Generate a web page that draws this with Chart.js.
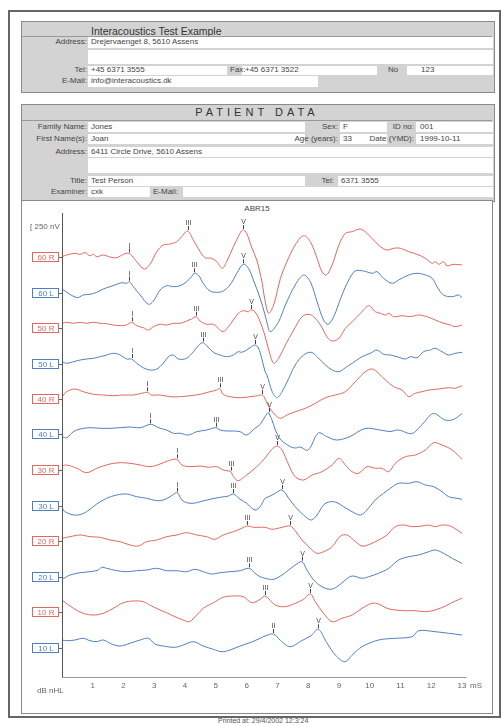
<!DOCTYPE html>
<html>
<head>
<meta charset="utf-8">
<script src="https://cdn.jsdelivr.net/npm/chart.js@4.4.1/dist/chart.umd.min.js"></script>
<style>
  body { margin: 0; width: 502px; height: 726px; position: relative; background: #fff; overflow: hidden;
         font-family: "Liberation Sans", Arial, sans-serif; color: #3a3a3a; }
  .a { position: absolute; }
  .frame { left: 8px; top: 10px; width: 489px; height: 704px; border: 2px solid #666; }
  .box { background: #d3d3d3; border: 1px solid #8a8a8a; }
  .w { background: #fff; }
  .ln { background: #999; height: 1px; }
  .t { font-size: 8px; line-height: 10px; white-space: nowrap; color: #444; }
  .r { text-align: right; width: 120px; }
</style>
</head>
<body>
<div class="a frame"></div>

<!-- company box -->
<div class="a box" style="left:21px;top:21px;width:472px;height:70px"></div>
<div class="a t" style="left:91px;top:25px;font-size:10.5px;line-height:12px;color:#333">Interacoustics Test Example</div>
<div class="a ln" style="left:22px;top:36px;width:470px"></div>
<div class="a w" style="left:88px;top:37px;width:405px;height:11px"></div>
<div class="a w" style="left:88px;top:50px;width:405px;height:14px"></div>
<div class="a w" style="left:88px;top:66px;width:139px;height:9px"></div>
<div class="a w" style="left:242px;top:66px;width:135px;height:9px"></div>
<div class="a w" style="left:407px;top:66px;width:86px;height:9px"></div>
<div class="a w" style="left:88px;top:76px;width:230px;height:11px"></div>
<div class="a t r" style="left:-33px;top:37px">Address:</div>
<div class="a t" style="left:91px;top:37px">Drejervaenget 8, 5610 Assens</div>
<div class="a t r" style="left:-33px;top:65px">Tel:</div>
<div class="a t" style="left:91px;top:65px">+45 6371 3555</div>
<div class="a t" style="left:230px;top:65px">Fax:</div>
<div class="a t" style="left:245px;top:65px">+45 6371 3522</div>
<div class="a t" style="left:388px;top:65px">No</div>
<div class="a t" style="left:421px;top:65px">123</div>
<div class="a t r" style="left:-33px;top:76px">E-Mail:</div>
<div class="a t" style="left:91px;top:76px">info@interacoustics.dk</div>

<!-- patient box -->
<div class="a box" style="left:21px;top:104px;width:472px;height:96px"></div>
<div class="a t" style="left:21px;top:106px;width:472px;text-align:center;font-size:11px;line-height:12px;letter-spacing:4px;color:#333">PATIENT DATA</div>
<div class="a ln" style="left:22px;top:120px;width:470px"></div>
<div class="a w" style="left:88px;top:122px;width:217px;height:10px"></div>
<div class="a w" style="left:340px;top:122px;width:47px;height:10px"></div>
<div class="a w" style="left:416px;top:122px;width:77px;height:10px"></div>
<div class="a w" style="left:88px;top:134px;width:217px;height:10px"></div>
<div class="a w" style="left:340px;top:134px;width:47px;height:10px"></div>
<div class="a w" style="left:416px;top:134px;width:77px;height:10px"></div>
<div class="a w" style="left:88px;top:147px;width:405px;height:10px"></div>
<div class="a w" style="left:88px;top:158px;width:405px;height:15px"></div>
<div class="a w" style="left:88px;top:176px;width:217px;height:10px"></div>
<div class="a w" style="left:338px;top:176px;width:155px;height:10px"></div>
<div class="a w" style="left:88px;top:187px;width:62px;height:10px"></div>
<div class="a w" style="left:183px;top:187px;width:310px;height:10px"></div>
<div class="a t r" style="left:-33px;top:122px">Family Name:</div>
<div class="a t" style="left:91px;top:122px">Jones</div>
<div class="a t r" style="left:218px;top:122px">Sex:</div>
<div class="a t" style="left:343px;top:122px">F</div>
<div class="a t r" style="left:294px;top:122px">ID no:</div>
<div class="a t" style="left:420px;top:122px">001</div>
<div class="a t r" style="left:-33px;top:134px">First Name(s):</div>
<div class="a t" style="left:91px;top:134px">Joan</div>
<div class="a t r" style="left:218px;top:134px">Age (years):</div>
<div class="a t" style="left:343px;top:134px">33</div>
<div class="a t r" style="left:294px;top:134px">Date (YMD):</div>
<div class="a t" style="left:420px;top:134px">1999-10-11</div>
<div class="a t r" style="left:-33px;top:147px">Address:</div>
<div class="a t" style="left:91px;top:147px">6411 Circle Drive, 5610 Assens</div>
<div class="a t r" style="left:-33px;top:176px">Title:</div>
<div class="a t" style="left:91px;top:176px">Test Person</div>
<div class="a t r" style="left:214px;top:176px">Tel:</div>
<div class="a t" style="left:341px;top:176px">6371 3555</div>
<div class="a t r" style="left:-33px;top:187px">Examiner:</div>
<div class="a t" style="left:91px;top:187px">cxk</div>
<div class="a t" style="left:153px;top:187px">E-Mail:</div>

<!-- chart box -->
<div class="a" style="left:21px;top:200px;width:470px;height:512px;border:1px solid #8a8a8a;background:#fff"></div>
<div class="a t" style="left:21px;top:204px;width:472px;text-align:center">ABR15</div>
<canvas id="abrChart" class="a" style="left:0;top:200px" width="502" height="500"></canvas>
<div class="a t" style="left:218px;top:717px;font-size:7px;line-height:8px;color:#555">Printed at: 29/4/2002 12:3:24</div>

<script>
// ABR waveforms
// each trace: [latency ms, amplitude] ; amplitude relative to its own baseline
const channels = ['60 R', '60 L', '50 R', '50 L', '40 R', '40 L', '30 R', '30 L', '20 R', '20 L', '10 R', '10 L'];
const xTicks = [1, 2, 3, 4, 5, 6, 7, 8, 9, 10, 11, 12, 13];

const trace60R = [[0,0.3],[0.15,2],[0.42,3.7],[0.58,2.7],[0.75,4.3],[0.91,1.3],[1.02,2.7],[1.13,0.3],[1.34,2],[1.56,0],[1.78,-0.7],[2.0,2.7],[2.19,3.5],[2.43,-4.7],[2.67,-12],[2.86,-7.3],[3.08,5.3],[3.29,12],[3.51,13],[3.73,15.3],[3.89,20.3],[4.08,26],[4.27,17],[4.49,5.3],[4.65,-0.7],[4.86,-1.3],[5.03,-4.7],[5.21,-11.3],[5.35,-4.7],[5.57,10.3],[5.73,20.3],[5.87,27],[6.0,23.7],[6.16,10],[6.33,-3],[6.5,-25],[6.55,-35],[6.64,-50],[6.72,-56.3],[6.88,-48],[7.1,-21.3],[7.31,-4.7],[7.58,12],[7.85,21.3],[8.07,15.3],[8.29,-1.3],[8.45,-14.7],[8.59,-18],[8.78,-8],[9.0,12],[9.21,23.7],[9.43,25.3],[9.7,28],[9.91,23.7],[10.18,15.3],[10.35,10.3],[10.56,7],[10.78,8.7],[11.0,8.7],[11.27,5.3],[11.54,2.7],[11.81,-1.3],[12.03,-6.3],[12.13,-4.7],[12.25,-7.3],[12.4,-4.7],[12.51,-8.7],[12.73,-7.3],[13.0,-8]];
const trace60L = [[0,3.5],[0.48,-5.2],[0.69,-2.5],[0.91,-1.8],[1.13,0.2],[1.34,3.5],[1.56,5.8],[1.78,8.2],[1.94,9.8],[2.1,9.2],[2.19,10.8],[2.32,5.8],[2.54,-2.5],[2.81,-11.8],[2.97,-8.5],[3.19,2.5],[3.4,6.8],[3.62,5.8],[3.84,6.8],[4.05,10.8],[4.21,15.8],[4.3,19.2],[4.43,17.5],[4.59,9.2],[4.81,1.5],[5.03,0.2],[5.24,1.5],[5.46,7.5],[5.68,19.2],[5.89,28.2],[6.06,24.2],[6.22,12.5],[6.44,-5.8],[6.6,-22.5],[6.66,-30],[6.77,-39.2],[7.04,-29.2],[7.26,-12.5],[7.58,7.5],[7.85,17.5],[8.07,10.8],[8.29,-9.2],[8.5,-27.5],[8.65,-31.8],[8.83,-24.2],[9.1,-2.5],[9.32,12.5],[9.53,21.5],[9.8,21.5],[10.08,19.2],[10.24,20.8],[10.45,14.2],[10.73,9.2],[10.94,12.5],[11.27,17.5],[11.54,19.2],[11.81,17.5],[12.03,14.2],[12.19,5.8],[12.4,-2.5],[12.68,-4.2],[12.89,-2.5],[13.0,-5.2]];
const trace50R = [[0,4.7],[0.15,5.7],[0.37,4.7],[0.59,5.7],[0.8,4.7],[1.02,5.7],[1.24,4.7],[1.45,4.3],[1.67,3],[1.89,2.3],[2.1,3],[2.26,5.7],[2.43,2.3],[2.64,0.3],[2.81,-2],[2.97,1.3],[3.19,3.7],[3.4,3],[3.62,4.7],[3.84,4.7],[4.05,7],[4.21,9],[4.36,11.3],[4.49,7],[4.7,3.7],[4.92,3.7],[5.08,-0.3],[5.24,-3.7],[5.41,1.3],[5.57,8],[5.73,14.7],[5.89,17.3],[6.06,16.3],[6.13,18],[6.27,16.3],[6.44,6.3],[6.58,-6],[6.72,-22],[6.88,-35.3],[7.04,-30.3],[7.26,-17],[7.53,-2],[7.8,11.3],[8.02,13.7],[8.18,11.3],[8.4,3],[8.61,-8.7],[8.78,-13],[9.0,-10.3],[9.21,-0.3],[9.43,6.3],[9.7,14.7],[9.97,22.3],[10.18,16.3],[10.35,14.7],[10.51,13],[10.62,14.7],[10.78,11.3],[11.05,12.3],[11.32,11.3],[11.59,13],[11.86,11.3],[12.13,8],[12.4,4.7],[12.62,3],[12.78,1.3],[13.0,3]];
const trace50L = [[0,1.8],[0.15,0.2],[0.37,1.8],[0.59,3.5],[0.8,4.5],[1.02,5.2],[1.24,6.8],[1.45,8.5],[1.67,10.2],[1.89,8.5],[2.1,4.5],[2.26,4.5],[2.43,0.2],[2.64,-4.2],[2.86,-6.5],[3.08,-5.5],[3.29,0.2],[3.46,6.8],[3.62,8.5],[3.78,4.5],[4.05,5.2],[4.27,11.8],[4.43,17.8],[4.57,20.8],[4.7,17.8],[4.92,11.2],[5.14,8.5],[5.35,6.8],[5.57,8.5],[5.73,11.8],[5.84,11.2],[6.0,13.5],[6.16,16.8],[6.27,18.5],[6.38,15.8],[6.49,5.2],[6.6,-8.2],[6.66,-11.5],[6.83,-28],[6.99,-34.2],[7.15,-28.2],[7.37,-14.8],[7.58,-1.5],[7.85,8.5],[8.1,11.2],[8.29,6.8],[8.56,-1.5],[8.78,-6.5],[9.0,-8.2],[9.21,-4.2],[9.43,0.2],[9.75,6.8],[10.02,10.2],[10.24,13.5],[10.45,9.2],[10.67,8.5],[10.89,6.8],[11.16,4.5],[11.32,6.8],[11.54,5.8],[11.75,11.8],[11.97,13.5],[12.13,15.2],[12.35,11.8],[12.57,8.5],[12.78,10.2],[13.0,11.2]];
const trace40R = [[0,2.3],[0.15,7.3],[0.42,10],[0.69,7.3],[1.02,4.7],[1.34,4],[1.67,3.3],[1.99,4],[2.32,4],[2.59,5.7],[2.77,6.7],[2.91,4],[3.19,4],[3.51,2.3],[3.84,2.3],[4.16,3.3],[4.49,4.7],[4.81,7.3],[5.03,9],[5.12,10.7],[5.24,4.7],[5.46,2.3],[5.79,1.3],[6.11,2.3],[6.3,3],[6.49,4],[6.57,2],[6.72,-7.7],[6.93,-16],[7.1,-19.3],[7.31,-16],[7.58,-12.7],[7.91,-9.3],[8.23,-4.3],[8.56,1.3],[8.88,4],[9.21,7.3],[9.53,17.3],[9.86,27.3],[10.08,30],[10.29,25.7],[10.51,19],[10.78,12.3],[11.05,9],[11.27,2.3],[11.48,5.7],[11.7,7.3],[11.92,9],[12.24,10],[12.57,11.3],[12.78,10.7],[13.0,13.3]];
const trace40L = [[0,-2.2],[0.15,-3.2],[0.37,2.8],[0.59,5.5],[0.91,6.8],[1.24,6.2],[1.56,6.2],[1.89,6.8],[2.21,7.5],[2.54,6.8],[2.86,10.2],[2.97,9.5],[3.19,6.2],[3.4,4.5],[3.62,1.2],[3.84,1.2],[4.11,-0.5],[4.38,2.8],[4.7,4.5],[5.0,6.8],[5.14,4.5],[5.35,3.5],[5.57,3.5],[5.79,2.8],[6.0,-0.5],[6.27,6.2],[6.44,10],[6.6,18],[6.72,21.5],[7.05,-3],[7.41,-12],[7.6,-13.5],[7.73,-12.5],[8.0,-15.5],[8.33,1.5],[8.6,-2],[8.93,-5.5],[9.36,-2],[9.85,6],[10.34,4.5],[10.66,3],[10.93,4.5],[11.37,1],[11.7,10],[12.07,21],[12.45,14.5],[12.72,15],[13.0,21]];
const trace30R = [[0,4],[0.15,5],[0.48,1.7],[0.8,-2.7],[1.13,1.7],[1.56,6],[1.89,7.3],[2.21,6.7],[2.54,5],[2.86,3.3],[3.19,6],[3.46,9.3],[3.73,10.7],[3.9,5],[4.16,3.3],[4.49,4],[4.76,2.7],[5.03,3.3],[5.24,0],[5.48,-1.7],[5.57,-6.7],[5.73,-10.7],[6.0,-5],[6.33,3.3],[6.6,12],[6.8,20],[6.99,24],[7.15,20],[7.37,5],[7.58,-6.7],[7.85,-10],[8.13,-5],[8.45,-1.7],[8.78,5],[9.0,11.7],[9.21,5],[9.43,-1.7],[9.64,-3.3],[9.91,3.3],[10.18,1.7],[10.4,1.7],[10.62,-1.7],[10.83,6.7],[11.16,13.3],[11.48,15],[11.81,20],[12.08,27.3],[12.35,25],[12.68,20],[13.0,10.7]];
const trace30L = [[0,2.2],[0.04,-4.5],[0.26,-8.5],[0.53,-9.5],[0.8,-6.2],[1.13,1.5],[1.45,7.2],[1.78,10.5],[2.1,11.5],[2.43,8.8],[2.75,7.2],[3.08,4.8],[3.29,5.5],[3.51,8.8],[3.67,12.2],[3.75,12.8],[3.9,5.5],[4.05,2.8],[4.27,2.2],[4.49,3.8],[4.81,6.2],[5.14,8.2],[5.41,9.5],[5.57,11.5],[5.79,6.2],[6.0,2.2],[6.27,-4.5],[6.44,-1.2],[6.6,7.2],[6.72,8.8],[6.93,12.2],[7.15,15.5],[7.37,7.2],[7.58,-1.2],[7.85,-9.5],[8.1,-14.5],[8.29,-9.5],[8.5,0.5],[8.72,3.8],[8.94,2.8],[9.15,-1.2],[9.43,-6.2],[9.7,-9.5],[9.91,-4.5],[10.18,5.5],[10.45,12.2],[10.67,17.2],[10.94,22.2],[11.27,22.2],[11.54,23.8],[11.81,20.5],[12.08,18.8],[12.35,13.8],[12.57,8.8],[12.84,7.2],[13.0,6.2]];
const trace20R = [[0,2.7],[0.26,4.3],[0.59,6],[0.91,4.3],[1.24,3.7],[1.56,1],[1.89,-0.7],[2.21,-4],[2.48,-5],[2.75,-0.7],[3.08,1],[3.4,4.3],[3.73,6],[4.05,8.3],[4.38,6],[4.7,4.3],[4.97,1.7],[5.24,6],[5.57,9.3],[5.84,12.7],[6.02,15],[6.22,13.7],[6.44,13.7],[6.6,13.7],[6.83,11.7],[7.15,13.7],[7.42,15],[7.58,10.3],[7.8,1],[8.07,-7.3],[8.29,-12.3],[8.5,-10.7],[8.78,-5.7],[9.05,5],[9.26,6],[9.48,1],[9.75,-5],[10.02,-3],[10.29,1],[10.56,6],[10.83,14.3],[11.1,16],[11.38,14.3],[11.7,15],[11.92,16],[12.13,14.3],[12.35,16],[12.62,15],[12.84,11],[13.0,7.7]];
const trace20L = [[0,0.5],[0.04,-1.8],[0.26,1.5],[0.59,3.8],[0.91,4.8],[1.18,6.5],[1.29,9.2],[1.45,8.2],[1.78,5.8],[2.1,4.8],[2.43,5.8],[2.75,6.5],[3.08,8.2],[3.4,5.8],[3.73,5.8],[4.05,4.8],[4.32,7.2],[4.59,4.8],[4.86,2.5],[5.14,3.8],[5.46,4.8],[5.79,5.8],[6.09,8.2],[6.27,3.2],[6.44,-0.2],[6.6,-1.8],[6.88,-2.8],[7.15,1.5],[7.37,6.5],[7.58,11.5],[7.8,14.8],[7.96,6.5],[8.18,-3.5],[8.45,-10.2],[8.72,-12.8],[8.94,-10.2],[9.21,-3.5],[9.43,0.5],[9.75,-1.8],[9.97,-0.2],[10.29,3.2],[10.62,8.2],[10.94,16.5],[11.27,19.8],[11.59,21.5],[11.92,24.8],[12.13,26.5],[12.4,23.2],[12.68,18.2],[13.0,13.2]];
const trace10R = [[0,12],[0.37,3.7],[0.69,-1.3],[1.02,-3],[1.34,-1.3],[1.67,3.7],[1.99,9.3],[2.32,11],[2.64,10.3],[2.91,6],[3.19,2],[3.4,-0.7],[3.67,-4.7],[3.94,-8],[4.14,-9.7],[4.38,-3],[4.59,3.7],[4.92,9.3],[5.24,14.7],[5.57,16],[5.89,15.3],[6.17,9.3],[6.44,12.7],[6.6,16],[6.93,7],[7.26,5.3],[7.58,8.7],[7.85,12.7],[8.07,18],[8.23,10.3],[8.5,-1.3],[8.78,-9.7],[9.1,-6.3],[9.43,-3],[9.75,3.7],[10.08,8.7],[10.29,8],[10.56,3.7],[10.83,2],[11.16,1.3],[11.48,1.3],[11.81,0.3],[12.13,2],[12.46,6],[12.78,11],[13.0,13.7]];
const trace10L = [[0,7.5],[0.15,6.8],[0.42,7.5],[0.69,9.2],[0.91,6.8],[1.13,5.8],[1.34,7.5],[1.61,3.5],[1.89,1.5],[2.21,4.2],[2.54,7.5],[2.81,9.2],[3.02,3.5],[3.29,1.5],[3.67,0.2],[3.94,2.5],[4.27,5.8],[4.59,1.5],[4.92,-1.8],[5.19,-4.2],[5.46,-2.5],[5.79,1.5],[6.11,4.8],[6.44,9.2],[6.6,11.5],[6.87,13.5],[7.1,7],[7.41,0.8],[7.8,7],[8.1,12],[8.33,18.2],[8.6,5],[8.9,-8],[9.19,-14.2],[9.45,-7],[9.75,0.8],[10.29,7.5],[10.83,9.2],[11.38,10.8],[11.59,16.8],[12.13,15.8],[12.57,14.2],[13.0,12.5]];

// wave markers: [label, latency ms]
const peaks60R = [['I', 2.19], ['III', 4.08], ['V', 5.87]];
const peaks60L = [['I', 2.19], ['III', 4.3], ['V', 5.89]];
const peaks50R = [['I', 2.26], ['III', 4.36], ['V', 6.13]];
const peaks50L = [['I', 2.26], ['III', 4.57], ['V', 6.27]];
const peaks40R = [['I', 2.77], ['III', 5.12], ['V', 6.49]];
const peaks40L = [['I', 2.86], ['III', 5.0], ['V', 6.72]];
const peaks30R = [['I', 3.73], ['III', 5.48], ['V', 6.99]];
const peaks30L = [['I', 3.75], ['III', 5.57], ['V', 7.15]];
const peaks20R = [['III', 6.02], ['V', 7.42]];
const peaks20L = [['III', 6.09], ['V', 7.8]];
const peaks10R = [['III', 6.6], ['V', 8.07]];
const peaks10L = [['II', 6.87], ['V', 8.33]];

const traces = [trace60R, trace60L, trace50R, trace50L, trace40R, trace40L, trace30R, trace30L, trace20R, trace20L, trace10R, trace10L];
const peaks = [peaks60R, peaks60L, peaks50R, peaks50L, peaks40R, peaks40L, peaks30R, peaks30L, peaks20R, peaks20L, peaks10R, peaks10L];

const RED = '#e2675d';
const BLUE = '#4f7fc2';
const TOP_BASE = 420;   // baseline of the first trace
const SPACING = 35.5;   // distance between traces

const colorOf = name => name.endsWith('R') ? RED : BLUE;
const baseOf = i => TOP_BASE - i * SPACING;

// value of a trace at a latency (for placing the wave labels)
function valueAt(trace, t) {
  for (let k = 1; k < trace.length; k++) {
    if (trace[k][0] >= t) {
      const [t0, v0] = trace[k - 1], [t1, v1] = trace[k];
      return v0 + (v1 - v0) * (t - t0) / (t1 - t0);
    }
  }
  return trace[trace.length - 1][1];
}

const abrDecor = {
  id: 'abrDecor',
  afterDatasetsDraw(chart) {
    const { ctx, chartArea: a, scales: { x, y } } = chart;
    ctx.save();

    // axes
    ctx.strokeStyle = '#555';
    ctx.lineWidth = 1;
    ctx.beginPath();
    ctx.moveTo(a.left + 0.5, a.top);
    ctx.lineTo(a.left + 0.5, a.bottom);
    ctx.stroke();
    ctx.strokeStyle = '#999';
    ctx.beginPath();
    ctx.moveTo(a.left, a.bottom + 0.5);
    ctx.lineTo(x.getPixelForValue(13.15), a.bottom + 0.5);
    ctx.stroke();

    // x tick labels
    ctx.fillStyle = '#666';
    ctx.font = '8px "Liberation Sans", Arial, sans-serif';
    ctx.textAlign = 'center';
    ctx.textBaseline = 'middle';
    xTicks.forEach(k => ctx.fillText(String(k), x.getPixelForValue(k), a.bottom + 9));
    ctx.textAlign = 'left';
    ctx.fillText('mS', x.getPixelForValue(13) + 8, a.bottom + 9);
    ctx.fillText('dB nHL', a.left - 25, a.bottom + 14);
    ctx.fillText('[ 250 nV', a.left - 32, a.top + 14);

    // channel labels
    channels.forEach((name, i) => {
      const py = Math.round(y.getPixelForValue(baseOf(i)));
      const col = colorOf(name);
      ctx.fillStyle = '#fff';
      ctx.fillRect(a.left - 30, py - 4.5, 27, 9);
      ctx.strokeStyle = col;
      ctx.lineWidth = 1;
      ctx.strokeRect(a.left - 29.5, py - 4.5, 26, 9);
      ctx.strokeStyle = '#666';
      ctx.beginPath();
      ctx.moveTo(a.left - 3, py + 0.5);
      ctx.lineTo(a.left, py + 0.5);
      ctx.stroke();
      ctx.fillStyle = col;
      ctx.textAlign = 'center';
      ctx.fillText(name, a.left - 16, py + 0.5);
    });

    // wave markers
    ctx.strokeStyle = '#444';
    ctx.fillStyle = '#444';
    ctx.font = '7px "Liberation Sans", Arial, sans-serif';
    ctx.textBaseline = 'alphabetic';
    peaks.forEach((list, i) => {
      list.forEach(([label, t]) => {
        const px = Math.round(x.getPixelForValue(t)) + 0.5;
        const py = y.getPixelForValue(baseOf(i) + valueAt(traces[i], t));
        ctx.beginPath();
        ctx.moveTo(px, py - 1);
        ctx.lineTo(px, py - 5);
        ctx.stroke();
        ctx.fillText(label, px, py - 6);
      });
    });
    ctx.restore();
  }
};

const datasets = traces.map((trace, i) => ({
  label: channels[i],
  data: trace.map(([t, v]) => ({ x: t, y: baseOf(i) + v })),
  borderColor: colorOf(channels[i]),
  borderWidth: 1,
  pointRadius: 0,
  tension: 0.35,
  fill: false
}));

new Chart(document.getElementById('abrChart'), {
  type: 'line',
  data: { datasets },
  options: {
    responsive: false,
    animation: false,
    layout: { padding: { left: 62, right: 40, top: 13, bottom: 23 } },
    plugins: { legend: { display: false }, tooltip: { enabled: false } },
    scales: {
      x: { type: 'linear', min: 0, max: 13, display: false },
      y: { type: 'linear', min: 0, max: 464, display: false }
    }
  },
  plugins: [abrDecor]
});
</script>
</body>
</html>
